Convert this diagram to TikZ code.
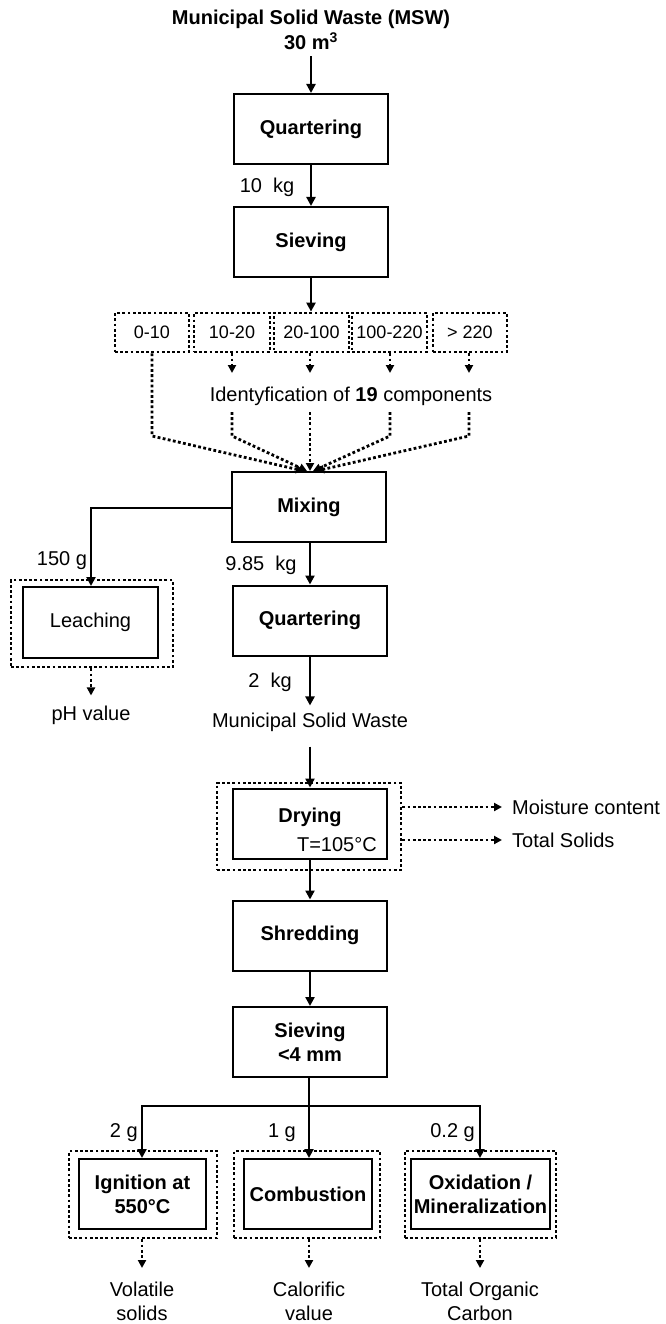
\documentclass[tikz,border=0pt]{standalone}
\usepackage{fontspec}
\setmainfont{Liberation Sans}
\usetikzlibrary{arrows.meta}
\begin{document}
\begin{tikzpicture}[x=1pt,y=-1pt,
  every node/.style={font=\fontsize{20}{24}\selectfont, inner sep=0pt},
  box/.style={draw, line width=2pt, minimum width=154pt, minimum height=70pt, font=\fontsize{20}{24}\selectfont\bfseries, align=center},
  dbox/.style={draw, line width=2.8pt, dash pattern=on 2.8pt off 2.4pt},
  sbox/.style={dbox, minimum height=39pt, font=\fontsize{18}{21}\selectfont},
  arr/.style={line width=2.5pt, -{Triangle[length=9pt,width=9pt]}},
  darr/.style={line width=2.8pt, dash pattern=on 2.8pt off 2.4pt, -{Triangle[length=8pt,width=8pt]}},
  sline/.style={line width=2.5pt}]
\useasboundingbox (0,0) rectangle (666,1324);
% title
\node[font=\fontsize{20}{25}\selectfont\bfseries, align=center] (title) at (311,30) {Municipal Solid Waste (MSW)\\30 m\textsuperscript{3}};
\node[box] (q1) at (311,129) {Quartering};
\node[box] (s1) at (311,242) {Sieving};
\node (l10) at (267,187) {10\ \ kg};
\draw[arr] ([yshift=-6pt]title.south) -- (q1.north);
\draw[arr] (q1.south) -- (s1.north);
% fractions
\node[sbox, minimum width=74pt] (b1) at (152,332.5) {0-10};
\node[sbox, minimum width=76pt] (b2) at (232,332.5) {10-20};
\node[sbox, minimum width=75pt] (b3) at (311.5,332.5) {20-100};
\node[sbox, minimum width=75pt] (b4) at (389.5,332.5) {100-220};
\node[sbox, minimum width=74pt] (b5) at (470,332.5) {> 220};
\draw[arr] (s1.south) -- (s1.south |- b3.north);
\node (ident) at (351,396) {Identyfication of \textbf{19} components};
\coordinate (e2) at (232,373);
\coordinate (e3) at (310,373);
\coordinate (e4) at (390,373);
\coordinate (e5) at (469,373);
\draw[darr] (b2.south -| e2) -- (e2);
\draw[darr] (b3.south -| e3) -- (e3);
\draw[darr] (b4.south -| e4) -- (e4);
\draw[darr] (b5.south -| e5) -- (e5);
% mixing
\node[box] (mix) at (309,507) {Mixing};
\coordinate (k1) at (152,436);
\coordinate (s2) at (232,412); \coordinate (k2) at (232,436);
\coordinate (s3) at (310,412);
\coordinate (s4) at (390,412); \coordinate (k4) at (390,436);
\coordinate (s5) at (469,412); \coordinate (k5) at (469,436);
\draw[darr] (b1.south -| k1) -- (k1) -- ([xshift=-5pt]mix.north);
\draw[darr] (s2) -- (k2) -- ([xshift=-2pt]mix.north);
\draw[darr] (s3) -- (s3 |- mix.north);
\draw[darr] (s4) -- (k4) -- ([xshift=4pt]mix.north);
\draw[darr] (s5) -- (k5) -- ([xshift=7pt]mix.north);
% leaching
\node[dbox, minimum width=162pt, minimum height=87pt] (leachO) at (92,623.5) {};
\node[draw, line width=2pt, minimum width=135pt, minimum height=71pt] (leach) at (90.5,622.5) {Leaching};
\coordinate (lc) at (91,508);
\draw[arr] (mix.west |- lc) -- (lc) -- (lc |- leach.north);
\node (l150) at (62,561) {150 g};
\node (ph) at (91,715) {pH value};
\draw[darr] (leachO.south -| lc) -- ([yshift=10pt]ph.north -| lc);
% quartering 2
\node[box] (q2) at (310,620.5) {Quartering};
\node (l985) at (261,565) {9.85\ \ kg};
\draw[arr] (mix.south -| q2.north) -- (q2.north);
\node (msw) at (310,722) {Municipal Solid Waste};
\node (l2) at (270,682) {2\ \ kg};
\draw[arr] (q2.south) -- ([yshift=7pt]msw.north);
% drying
\node[dbox, minimum width=184pt, minimum height=87pt] (dryO) at (309,826.5) {};
\node[box] (dry) at (310,823.5) {};
\node[font=\fontsize{20}{24}\selectfont\bfseries] (dryt) at (310,817) {Drying};
\node[anchor=east] (temp) at (377,845) {T=105°C};
\draw[arr] ([yshift=-15pt]msw.south) -- (dry.north);
\node[anchor=west] (moist) at (512,807) {Moisture content};
\node[anchor=west] (ts) at (512,840) {Total Solids};
\draw[darr] (dryO.east |- moist.west) -- ([xshift=-10pt]moist.west);
\draw[darr] (dryO.east |- ts.west) -- ([xshift=-10pt]ts.west);
% shredding / sieving
\node[box] (shred) at (310,935.5) {Shredding};
\node[box] (sv2) at (310,1042) {Sieving\\<4 mm};
\draw[arr] (dry.south) -- (shred.north);
\draw[arr] (shred.south) -- (sv2.north);
% bottom branches
\node[dbox, minimum width=148pt, minimum height=87pt] (oA) at (143,1194.5) {};
\node[dbox, minimum width=146pt, minimum height=87pt] (oB) at (307,1194.5) {};
\node[dbox, minimum width=151pt, minimum height=87pt] (oC) at (480.5,1194.5) {};
\node[box, minimum width=127pt] (ign) at (142.5,1194) {Ignition at\\550°C};
\node[box, minimum width=128pt] (comb) at (308,1194) {Combustion};
\node[box, minimum width=139pt] (oxi) at (480.5,1194) {Oxidation /\\Mineralization};
\coordinate (jA) at (142,1106);
\coordinate (jB) at (309,1106);
\coordinate (jC) at (480,1106);
\draw[sline] (sv2.south -| jB) -- (jB);
\draw[sline, line cap=rect] (jA) -- (jC);
\draw[arr] (jA) -- (jA |- ign.north);
\draw[arr] (jB) -- (jB |- comb.north);
\draw[arr] (jC) -- (jC |- oxi.north);
\node[anchor=east] (g2) at (138,1133) {2 g};
\node[anchor=east] (g1) at (296,1133) {1 g};
\node[anchor=east] (g02) at (475,1133) {0.2 g};
\node[align=center] (vs) at (142,1301) {Volatile\\solids};
\node[align=center] (cv) at (309,1301) {Calorific\\value};
\node[align=center] (toc) at (480,1301) {Total Organic\\Carbon};
\draw[darr] (oA.south -| jA) -- (jA |- 0,1268);
\draw[darr] (oB.south -| jB) -- (jB |- 0,1268);
\draw[darr] (oC.south -| jC) -- (jC |- 0,1268);
\end{tikzpicture}
\end{document}
